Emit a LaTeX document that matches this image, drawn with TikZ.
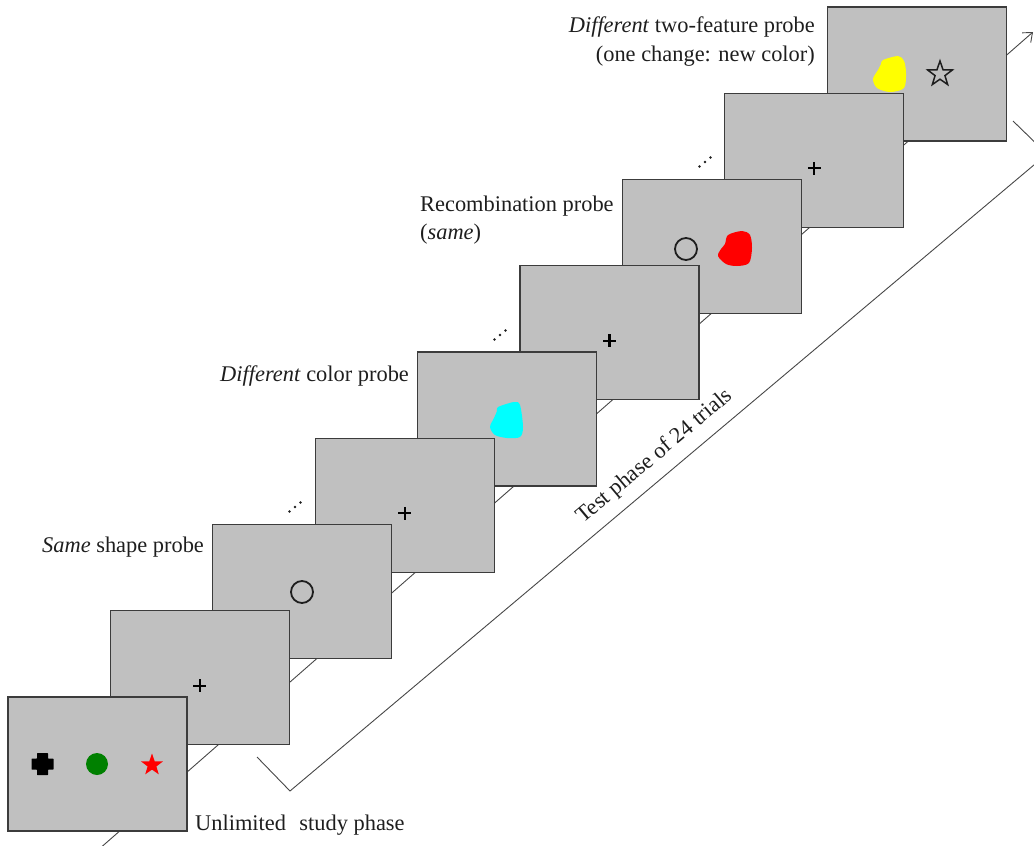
\documentclass[tikz,border=0pt]{standalone}
\usepackage{fontspec}
\setmainfont{Liberation Serif}
\usetikzlibrary{arrows.meta,shapes.geometric}
\definecolor{panelgray}{RGB}{192,192,192}
\definecolor{edgegray}{RGB}{60,60,60}
\definecolor{dkgreen}{RGB}{0,128,0}
\definecolor{blobcyan}{RGB}{0,255,255}
\definecolor{blobred}{RGB}{255,0,0}
\definecolor{blobyellow}{RGB}{255,255,0}
\definecolor{inkgray}{RGB}{30,30,30}
\begin{document}
\begin{tikzpicture}[x=1pt,y=-1pt,
  panel/.style={draw=edgegray, fill=panelgray, line width=1.1pt,
    minimum width=179pt, minimum height=134pt, inner sep=0pt},
  lbl/.style={font=\fontsize{22.4}{29}\selectfont, inner sep=0pt, text=inkgray},
  guide/.style={draw=black!72, line width=0.9pt},
  fixcross/.style={draw=black, line width=2.2pt},
  ring/.style={draw=inkgray, line width=1.8pt, circle, minimum size=22pt, inner sep=0pt},
  dotmark/.style={fill=inkgray, circle, inner sep=0pt, minimum size=2.8pt},
  starmark/.style={star, star points=5, star point ratio=2.5, inner sep=0pt}
]
\useasboundingbox (0,0) rectangle (1034,846);
\clip (0,0) rectangle (1034,846);

% time line running behind the screens
\coordinate (tl0) at (98,850);
\coordinate (tl1) at (1033,32);
\draw[guide, -{Straight Barb[length=8pt,width=13pt]}] (tl0) -- (tl1);

% bracket spanning the test phase
\coordinate (b0) at (257,757);
\coordinate (b1) at (290,791);
\coordinate (b2) at (1047,154);
\coordinate (b3) at (1013,121);
\draw[guide] (b0) -- (b1) -- (b2) -- (b3);
\node[lbl, anchor=base west, rotate=40] (ltest) at (583,524) {Test phase of 24 trials};

% screen 9: two-feature probe (new colour)
\node[panel] (p9) at (916.7,74) {};
\fill[blobyellow] plot[smooth cycle, tension=0.5] coordinates
  {(883,60) (898,56) (904,61) (906,73) (904,88) (890,92) (877,88) (873,79) (878,70) (881,64)};
\node[starmark, draw=inkgray, line width=1.5pt, minimum size=26pt] (s9) at (940,74) {};

% screen 8: fixation
\node[panel] (p8) at (814.3,160.25) {};
\draw[fixcross] ([xshift=-6.5pt,yshift=-8pt]p8.center) -- ([xshift=6.5pt,yshift=-8pt]p8.center);
\draw[fixcross] ([yshift=-1.5pt]p8.center) -- ([yshift=-14.5pt]p8.center);

% screen 7: recombination probe
\node[panel] (p7) at (711.9,246.5) {};
\node[ring] (c7) at (686,249) {};
\fill[blobred] plot[smooth cycle, tension=0.5] coordinates
  {(728,235) (742,231) (750,235) (752,248) (749,263) (737,266) (726,264) (718,256) (721,249) (725,244)};

% screen 6: fixation
\node[panel] (p6) at (609.5,332.75) {};
\draw[fixcross] ([xshift=-6.5pt,yshift=-8pt]p6.center) -- ([xshift=6.5pt,yshift=-8pt]p6.center);
\draw[fixcross] ([yshift=-1.5pt]p6.center) -- ([yshift=-14.5pt]p6.center);

% screen 5: different colour probe
\node[panel] (p5) at (507.1,419) {};
\fill[blobcyan] plot[smooth cycle, tension=0.5] coordinates
  {(498,407) (514,402) (520,405) (523,427) (520,437) (507,438) (495,435) (490,427) (494,418) (497,411)};

% screen 4: fixation
\node[panel] (p4) at (404.7,505.25) {};
\draw[fixcross] ([xshift=-6.5pt,yshift=-8pt]p4.center) -- ([xshift=6.5pt,yshift=-8pt]p4.center);
\draw[fixcross] ([yshift=-1.5pt]p4.center) -- ([yshift=-14.5pt]p4.center);

% screen 3: same shape probe
\node[panel] (p3) at (302.3,591.5) {};
\node[ring] (c3) at (302,592) {};

% screen 2: fixation
\node[panel] (p2) at (199.9,677.75) {};
\draw[fixcross] ([xshift=-6.5pt,yshift=-8pt]p2.center) -- ([xshift=6.5pt,yshift=-8pt]p2.center);
\draw[fixcross] ([yshift=-1.5pt]p2.center) -- ([yshift=-14.5pt]p2.center);

% screen 1: study display
\node[panel] (p1) at (97.5,764) {};
\fill[black, rounded corners=0.5pt]
  (37,753) -- (48,753) -- (48,758.5) -- (53.5,758.5) -- (53.5,769.5) -- (48,769.5)
  -- (48,775) -- (37,775) -- (37,769.5) -- (31.5,769.5) -- (31.5,758.5) -- (37,758.5) -- cycle;
\node[circle, fill=dkgreen, minimum size=22pt, inner sep=0pt] (g1) at (97,764) {};
\node[starmark, fill=blobred, minimum size=23pt] (s1) at (152,765) {};

% ellipses between screens
\foreach \cx/\cy [count=\i] in {295/507, 500/335, 705/162} {
  \node[dotmark] (e\i a) at (\cx-5.5,\cy+4.5) {};
  \node[dotmark] (e\i b) at (\cx,\cy) {};
  \node[dotmark] (e\i c) at (\cx+5.5,\cy-4.5) {};
}

% captions
\node[lbl, anchor=base west] (lstudy) at (195,830) {Unlimited\hspace{0.35em} study phase};
\node[lbl, anchor=base west] (lsame) at (42,552) {\textit{Same} shape probe};
\node[lbl, anchor=base west] (ldiff) at (220,381) {\textit{Different} color probe};
\node[lbl, anchor=base west] (lrec1) at (420,211) {Recombination probe};
\node[lbl, anchor=base west] (lrec2) at (420,239) {(\textit{same})};
\node[lbl, anchor=base east] (ltop1) at (815,32) {\textit{Different} two-feature probe};
\node[lbl, anchor=base east] (ltop2) at (815,61) {(one change: new color)};
\end{tikzpicture}
\end{document}
